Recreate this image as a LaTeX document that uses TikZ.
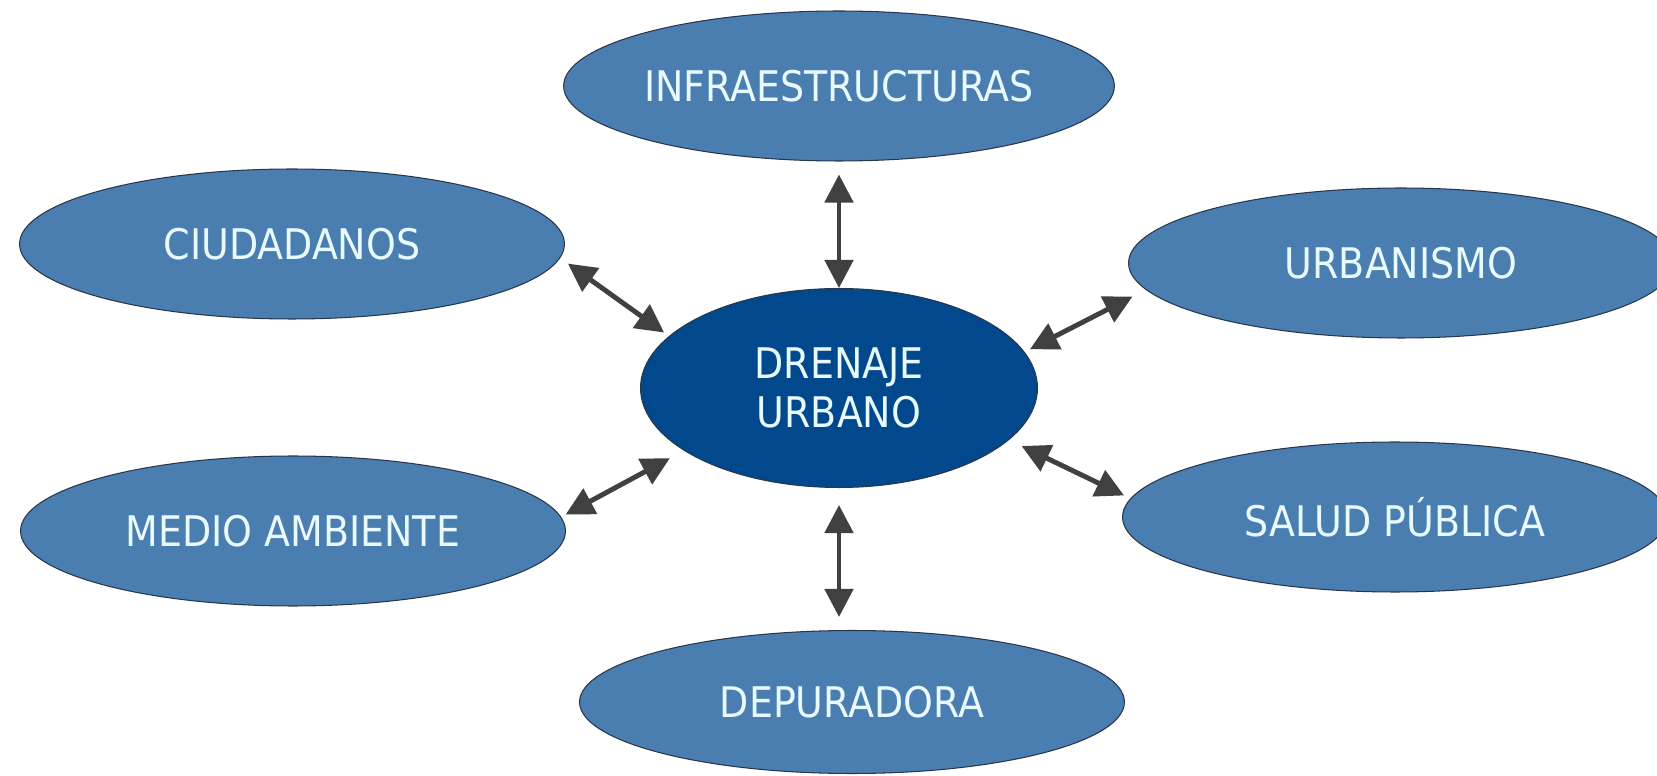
\documentclass[tikz,border=0pt]{standalone}
\usepackage{fontspec}
\setmainfont{DejaVu Sans Condensed}
\usepackage{tikz}
\usetikzlibrary{positioning, arrows.meta, shapes.geometric}
\definecolor{myblue}{RGB}{74, 126, 176}
\definecolor{mydarkblue}{RGB}{2, 72, 140}
\definecolor{myborder}{RGB}{40, 55, 75}
\definecolor{mytext}{RGB}{232, 250, 255}
\definecolor{myarrow}{RGB}{64, 64, 64}

\begin{document}
\begin{tikzpicture}[x=0.02cm, y=-0.02cm,
    % --- Stili per i nodi e le frecce ---
    tema/.style={ellipse, draw=myborder, line width=0.6pt, fill=myblue, text=mytext,
        minimum width=10.9cm, minimum height=3cm, inner sep=0, align=center,
        font=\fontsize{24}{28}\selectfont},
    centro/.style={tema, fill=mydarkblue, minimum width=7.94cm, minimum height=3.98cm},
    legame/.style={{Triangle[length=16pt, width=16pt]}-{Triangle[length=16pt, width=16pt]},
        line width=2.8pt, draw=myarrow}
]

% 1. Riquadro esterno (fissa i margini)
\clip (0, 0) rectangle (1657, 776);
\fill[white] (0, 0) rectangle (1657, 776);

% 2. Nodo centrale
\node (drenaje) [centro] at (839, 388) {DRENAJE\\URBANO};

% 3. Nodi esterni
\node (infra) [tema] at (839, 86) {INFRAESTRUCTURAS};
\node (ciudadanos) [tema] at (292, 244) {CIUDADANOS};
\node (urbanismo) [tema] at (1401, 263) {URBANISMO};
\node (medio) [tema] at (293, 531) {MEDIO AMBIENTE};
\node (salud) [tema] at (1395, 517) {SALUD PÚBLICA};
\node (depuradora) [tema, minimum height=2.86cm] at (852, 702) {DEPURADORA};

% 4. Frecce doppie tra il centro e i nodi esterni
\draw[legame, shorten >=0.26cm] (drenaje.north) -- (infra.south);
\draw[legame, shorten <=0.34cm, shorten >=0.26cm] (drenaje.south) -- (drenaje.south |- depuradora.north);
\draw[legame, shorten <=0.12cm, shorten >=0.19cm] (drenaje.163) -- (ciudadanos.-3);
\draw[legame, shorten <=0.32cm, shorten >=0.1cm] (drenaje.202) -- (medio.3);
\draw[legame, shorten <=0.12cm, shorten >=0.3cm] (drenaje.11) -- (urbanismo.186);
\draw[legame, shorten <=0.28cm, shorten >=0.14cm] (drenaje.-17) -- (salud.176);
\end{tikzpicture}
\end{document}
